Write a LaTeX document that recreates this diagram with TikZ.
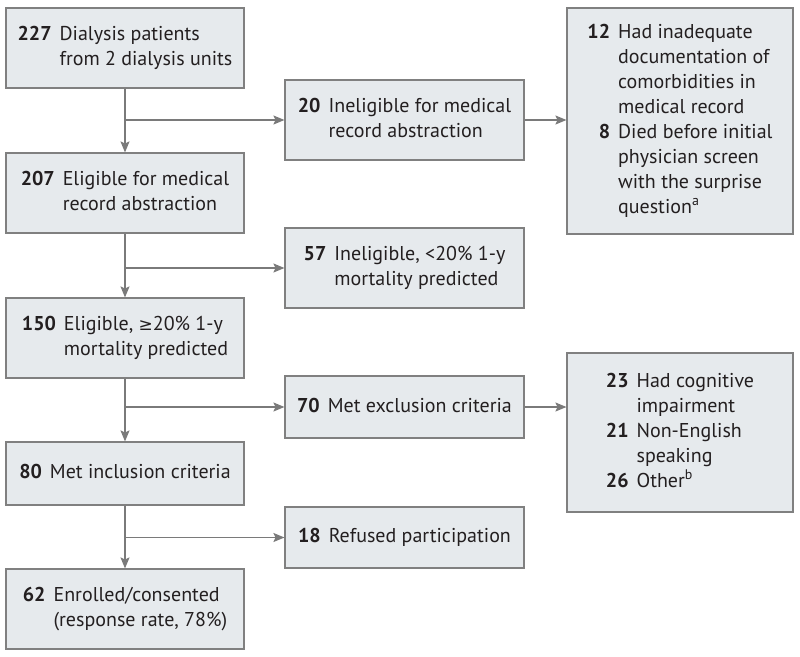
\documentclass[tikz,border=0pt]{standalone}
\usepackage{fontspec}
\setmainfont{PT Sans}
\newfontfamily\symfont{DejaVu Sans}
\usetikzlibrary{arrows.meta}
\definecolor{boxfill}{HTML}{E6EAED}
\definecolor{boxline}{HTML}{808080}
\definecolor{arrowc}{HTML}{7A7A7A}
\definecolor{txt}{HTML}{231F20}
\newcommand{\geqsym}{{\symfont\fontsize{17}{25}\selectfont ≥}}
\begin{document}
\begin{tikzpicture}[x=1pt,y=-1pt,
  box/.style={draw=boxline, fill=boxfill, line width=1.1pt, inner sep=0pt,
    text=txt, font=\fontsize{20}{25}\selectfont, align=left},
  conn/.style={draw=arrowc, line width=1.2pt, -{Stealth[length=11pt,width=9pt,inset=2pt]}}]
\useasboundingbox (0,0) rectangle (800,656);
\node[box, minimum width=238, minimum height=80] (A) at (125,48)
  {\begin{tabular}{@{}r@{\hspace{8pt}}l@{}}\textbf{227} & Dialysis patients\\ & from 2 dialysis units\end{tabular}};
\node[box, minimum width=238, minimum height=80] (B) at (125,193)
  {\begin{tabular}{@{}r@{\hspace{8pt}}l@{}}\textbf{207} & Eligible for medical\\ & record abstraction\end{tabular}};
\node[box, minimum width=238, minimum height=80] (C) at (125,338)
  {\begin{tabular}{@{}r@{\hspace{8pt}}l@{}}\textbf{150} & Eligible, \geqsym20\% 1-y\\ & mortality predicted\end{tabular}};
\node[box, minimum width=238, minimum height=63] (D) at (125,473.5)
  {\begin{tabular}{@{}r@{\hspace{8pt}}l@{}}\textbf{80} & Met inclusion criteria\end{tabular}};
\node[box, minimum width=238, minimum height=80] (E) at (125,609)
  {\begin{tabular}{@{}r@{\hspace{8pt}}l@{}}\textbf{62} & Enrolled/consented\\ & (response rate, 78\%)\end{tabular}};
\node[box, minimum width=239, minimum height=80] (M1) at (404.5,120)
  {\begin{tabular}{@{}r@{\hspace{8pt}}l@{}}\textbf{20} & Ineligible for medical\\ & record abstraction\end{tabular}};
\node[box, minimum width=239, minimum height=80] (M2) at (404.5,268)
  {\begin{tabular}{@{}r@{\hspace{8pt}}l@{}}\textbf{57} & Ineligible, <20\% 1-y\\ & mortality predicted\end{tabular}};
\node[box, minimum width=239, minimum height=62] (M3) at (404.5,407)
  {\begin{tabular}{@{}r@{\hspace{8pt}}l@{}}\textbf{70} & Met exclusion criteria\end{tabular}};
\node[box, minimum width=239, minimum height=61] (M4) at (404.5,537.5)
  {\begin{tabular}{@{}r@{\hspace{8pt}}l@{}}\textbf{18} & Refused participation\end{tabular}};
\node[box, minimum width=226, minimum height=226] (R1) at (680,121)
  {\begin{tabular}{@{}r@{\hspace{8pt}}l@{}}\textbf{12} & Had inadequate\\ & documentation of\\ & comorbidities in\\ & medical record\\
   \textbf{8} & Died before initial\\ & physician screen\\ & with the surprise\\ & question\textsuperscript{a}\end{tabular}};
\node[box, minimum width=226, minimum height=159] (R2) at (680,432.5)
  {\begin{tabular}{@{}r@{\hspace{8pt}}l@{}}\textbf{23} & Had cognitive\\ & impairment\\ \textbf{21} & Non-English\\ & speaking\\ \textbf{26} & Other\textsuperscript{b}\end{tabular}};
% main flow
\draw[conn] (A) -- (B);
\draw[conn] (B) -- (C);
\draw[conn] (C) -- (D);
\draw[conn] (D) -- (E);
% branches
\coordinate (j1) at (A.south |- M1.west);
\coordinate (j2) at (A.south |- M2.west);
\coordinate (j3) at (A.south |- M3.west);
\coordinate (j4) at (A.south |- M4.west);
\draw[conn] (j1) -- (M1.west);
\draw[conn] (j2) -- (M2.west);
\draw[conn] (j3) -- (M3.west);
\draw[conn] (j4) -- (M4.west);
\draw[conn] (M1.east) -- (M1.east -| R1.west);
\draw[conn] (M3.east) -- (M3.east -| R2.west);
\end{tikzpicture}
\end{document}
